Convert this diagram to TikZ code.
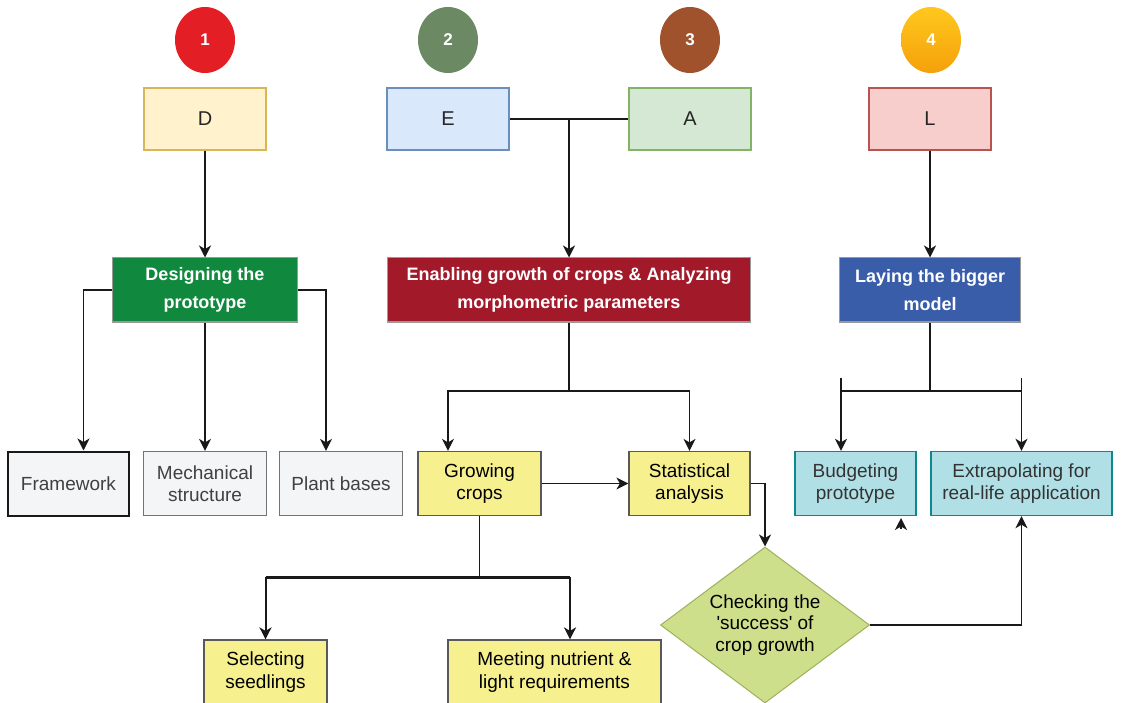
\documentclass[tikz,border=0pt]{standalone}
\usepackage{fontspec}
\setmainfont{Liberation Sans}
\usetikzlibrary{shapes.geometric,arrows.meta,calc}

\definecolor{numred}{HTML}{E31E24}
\definecolor{numgreen}{HTML}{6B8A63}
\definecolor{numbrown}{HTML}{A0522D}
\definecolor{numyelA}{HTML}{FFC81E}
\definecolor{numyelB}{HTML}{F5A00A}
\definecolor{dfill}{HTML}{FFF2CC}\definecolor{ddraw}{HTML}{D6B656}
\definecolor{efill}{HTML}{DAE8FC}\definecolor{edraw}{HTML}{6C8EBF}
\definecolor{afill}{HTML}{D5E8D4}\definecolor{adraw}{HTML}{82B366}
\definecolor{lfill}{HTML}{F8CECC}\definecolor{ldraw}{HTML}{B85450}
\definecolor{hgreen}{HTML}{10893E}
\definecolor{hred}{HTML}{A21A2A}
\definecolor{hblue}{HTML}{3A5DAA}
\definecolor{partgray}{HTML}{F4F5F7}
\definecolor{stepyellow}{HTML}{F6F08E}
\definecolor{checkgreen}{HTML}{CDDF8B}\definecolor{checkdraw}{HTML}{9DB05C}
\definecolor{modelteal}{HTML}{B0DFE5}\definecolor{modeldraw}{HTML}{10868E}

\begin{document}
\begin{tikzpicture}[x=1pt,y=-1pt,
  num/.style={ellipse,minimum width=60,minimum height=66,inner sep=0,text=white,font=\fontsize{17}{17}\selectfont\bfseries},
  letter/.style={draw,line width=1.2,minimum width=122,minimum height=62,text=black!85,font=\fontsize{20}{20}\selectfont},
  phase/.style={draw=black!40,line width=1,minimum height=64,align=center,text=white,font=\fontsize{18}{28}\selectfont\bfseries},
  part/.style={draw=black!55,fill=partgray,line width=1.2,minimum height=64,align=center,text=black!75,font=\fontsize{19}{22.5}\selectfont},
  stepbox/.style={draw=black!65,fill=stepyellow,line width=1.2,minimum height=64,align=center,text=black,font=\fontsize{19}{22.5}\selectfont},
  line/.style={draw=black!90,line width=1.5},
  arr/.style={line,-{Stealth[length=12pt,width=12pt,inset=3.5pt]}}]
\useasboundingbox (0,0) rectangle (1127,703);

\node[num,fill=numred] (c1) at (205,40) {1};
\node[num,fill=numgreen] (c2) at (448,40) {2};
\node[num,fill=numbrown] (c3) at (690,40) {3};
\node[num,top color=numyelA,bottom color=numyelB] (c4) at (931,40) {4};

\node[letter,fill=dfill,draw=ddraw] (D) at (205,119) {D};
\node[letter,fill=efill,draw=edraw] (E) at (448,119) {E};
\node[letter,fill=afill,draw=adraw] (A) at (690,119) {A};
\node[letter,fill=lfill,draw=ldraw] (L) at (930,119) {L};

\node[phase,fill=hgreen,minimum width=185] (design) at (205,290) {Designing the\\prototype};
\node[phase,fill=hred,minimum width=363] (enable) at (569,290) {Enabling growth of crops \& Analyzing\\morphometric parameters};
\node[phase,fill=hblue,minimum width=181] (model) at (930,290) {Laying the bigger\\model};

\node[part,draw=black!90,line width=2,minimum width=121] (frame) at (68.5,483.5) {Framework};
\node[part,minimum width=123] (mech) at (205,483.5) {Mechanical\\structure};
\node[part,minimum width=123] (plant) at (341,483.5) {Plant bases};

\node[stepbox,minimum width=123] (grow) at (479.5,483.5) {Growing\\crops};
\node[stepbox,minimum width=121] (stat) at (689.5,483.5) {Statistical\\analysis};
\node[stepbox,minimum width=123] (select) at (265.5,672) {Selecting\\seedlings};
\node[stepbox,minimum width=213] (meet) at (554.5,672) {Meeting nutrient \&\\light requirements};

\node[diamond,aspect=1.34,draw=checkdraw,fill=checkgreen,line width=1,inner sep=0,minimum width=209,minimum height=156,align=center,font=\fontsize{19}{21.7}\selectfont] (check) at (765,625) {Checking the\\\textquotesingle success\textquotesingle{} of\\crop growth};

\node[part,fill=modelteal,draw=modeldraw,line width=1.4,text=black!80,minimum width=121] (budget) at (855.5,483.5) {Budgeting\\prototype};
\node[part,fill=modelteal,draw=modeldraw,line width=1.4,text=black!80,minimum width=181] (extra) at (1021.5,483.5) {Extrapolating for\\real-life application};

\draw[arr] (D) -- (design);
\draw[line] (E) -- (A);
\coordinate (ea) at ($(E.east)!.5!(A.west)$);
\draw[arr] (ea) -- (ea |- enable.north);
\draw[arr] (L) -- (model);

\draw[arr] (design.west) -| ([xshift=15]frame.north);
\draw[arr] (design) -- (mech);
\draw[arr] (design.east) -| ([xshift=-15]plant.north);

\coordinate (mid) at (enable.south |- 0,391);
\draw[line] (enable) -- (mid);
\draw[arr] (mid) -| ([xshift=-31.5]grow.north);
\draw[arr] (mid) -| (stat.north);
\draw[arr] (grow) -- (stat);
\draw[arr] (stat.east) -| (check.north);
\draw[arr] (check.east) -| (extra.south);

\coordinate (fork) at (grow.south |- 0,577);
\coordinate (mx) at ([xshift=15.5]meet.north);
\draw[line] (grow) -- (fork);
\draw[line,line width=3] (select.north |- fork) -- (mx |- fork);
\draw[arr,line width=2] (select.north |- fork) -- (select);
\draw[arr,line width=2] (mx |- fork) -- (mx);

\coordinate (split) at (model.south |- 0,391);
\coordinate (bx) at ([xshift=-14.5]budget.north);
\coordinate (bl) at (bx |- 0,378);
\coordinate (br) at (extra.north |- 0,378);
\draw[line] (model) -- (split);
\draw[line] (bl |- split) -- (br |- split);
\draw[arr] (bl) -- (bx);
\draw[arr] (br) -- (extra.north);
\draw[arr] (901,529) -- (901,518);
\end{tikzpicture}
\end{document}
